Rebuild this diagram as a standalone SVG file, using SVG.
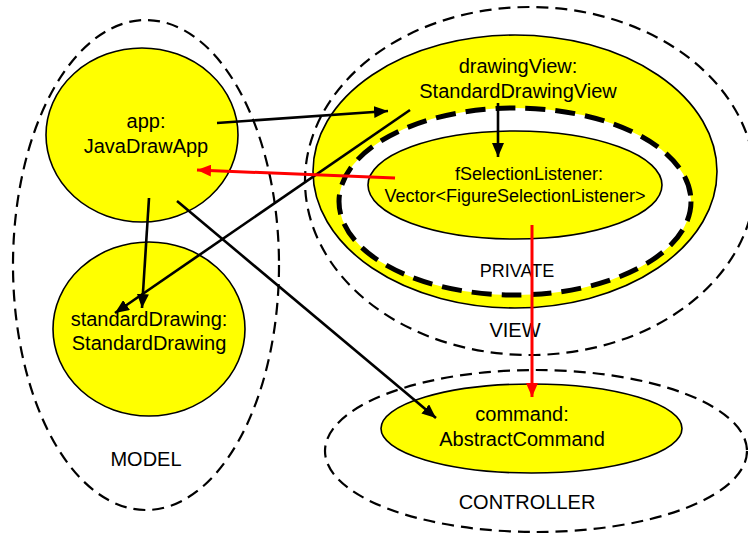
<svg xmlns="http://www.w3.org/2000/svg" width="748" height="533" viewBox="0 0 748 533">
  <style>
    .pkg { fill: none; stroke: #000; stroke-width: 2.2; stroke-dasharray: 12 7; }
    .priv { fill: #fff; stroke: #000; stroke-width: 5; stroke-dasharray: 20 10; }
    .obj { fill: #ffff00; stroke: #000; stroke-width: 1.6; }
    text { font-family: "Liberation Sans", Arial, sans-serif; font-size: 20px; fill: #000; text-anchor: middle; }
    .small { font-size: 18px; }
    .conn { fill: none; stroke: #000; stroke-width: 2.6; marker-end: url(#arrow); }
    .red { fill: none; stroke: #ff0000; stroke-width: 3; marker-end: url(#arrowRed); }
  </style>
  <defs>
    <marker id="arrow" markerUnits="userSpaceOnUse" markerWidth="15" markerHeight="12" refX="14" refY="6" orient="auto">
      <path d="M0,0 L14,6 L0,12 Z" fill="#000"/>
    </marker>
    <marker id="arrowRed" markerUnits="userSpaceOnUse" markerWidth="15" markerHeight="12" refX="14" refY="6" orient="auto">
      <path d="M0,0 L14,6 L0,12 Z" fill="#ff0000"/>
    </marker>
  </defs>

  <rect width="748" height="533" fill="#fff"/>

  <!-- MODEL package -->
  <g id="model">
    <ellipse class="pkg" cx="146" cy="265" rx="133" ry="245"/>
    <text x="146" y="466">MODEL</text>
  </g>

  <!-- VIEW package -->
  <g id="view">
    <ellipse class="pkg" cx="530" cy="181" rx="225" ry="174"/>
    <text x="515" y="337">VIEW</text>
  </g>

  <!-- CONTROLLER package -->
  <g id="controller">
    <ellipse class="pkg" cx="536" cy="451" rx="211" ry="81"/>
    <text x="527" y="509">CONTROLLER</text>
  </g>

  <g id="app">
    <ellipse class="obj" cx="142" cy="135" rx="96" ry="87"/>
    <text x="146" y="128">app:</text>
    <text x="146" y="153">JavaDrawApp</text>
  </g>

  <g id="standardDrawing">
    <ellipse class="obj" cx="149" cy="329" rx="96" ry="87"/>
    <text x="149" y="326">standardDrawing:</text>
    <text x="149" y="350">StandardDrawing</text>
  </g>

  <g id="drawingView">
    <ellipse class="obj" cx="515" cy="171.5" rx="202" ry="136.5"/>
    <text x="518" y="73">drawingView:</text>
    <text x="518" y="98">StandardDrawingView</text>
  </g>

  <!-- PRIVATE region inside drawingView -->
  <g id="private">
    <ellipse class="priv" cx="515" cy="201.5" rx="176" ry="93.5"/>
    <text class="small" x="517" y="277">PRIVATE</text>
  </g>

  <g id="fSelectionListener">
    <ellipse class="obj" cx="515" cy="185" rx="147" ry="54"/>
    <text class="small" x="529" y="180">fSelectionListener:</text>
    <text class="small" x="515" y="202">Vector&lt;FigureSelectionListener&gt;</text>
  </g>

  <g id="command">
    <ellipse class="obj" cx="531.5" cy="428.5" rx="150.5" ry="44.5"/>
    <text x="522" y="421">command:</text>
    <text x="522" y="446">AbstractCommand</text>
  </g>

  <!-- connectors -->
  <g id="connectors">
    <line class="conn" x1="217" y1="123" x2="388" y2="111"/>
    <line class="conn" x1="410" y1="110" x2="115" y2="313"/>
    <line class="conn" x1="149" y1="198" x2="142" y2="308"/>
    <line class="conn" x1="177" y1="201" x2="436" y2="418"/>
    <line class="conn" x1="498" y1="103" x2="498" y2="157"/>
    <line class="red" x1="395" y1="178" x2="197" y2="170"/>
    <line class="red" x1="532" y1="225" x2="532" y2="397"/>
  </g>
</svg>
